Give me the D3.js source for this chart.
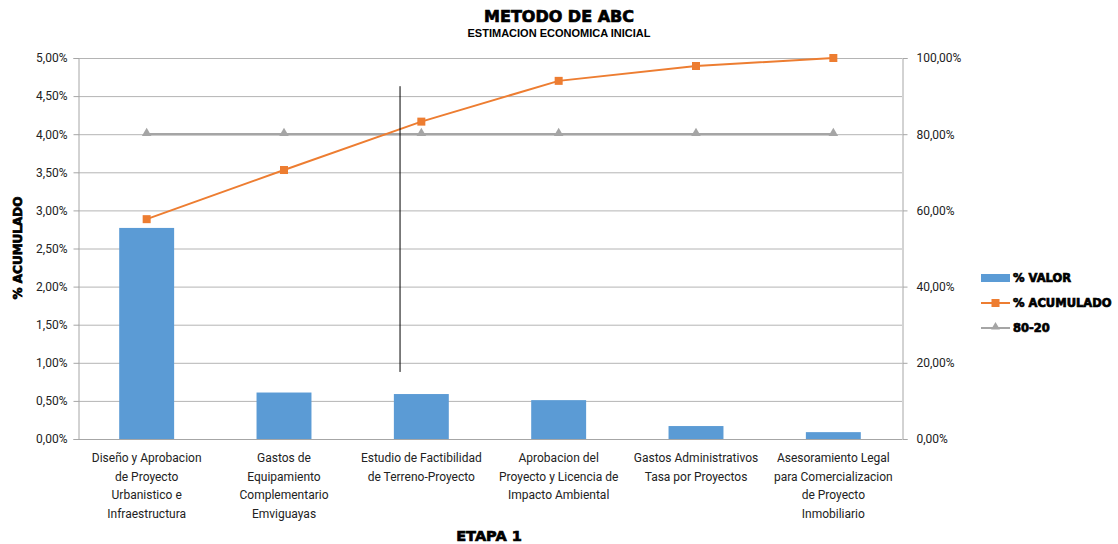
<!DOCTYPE html>
<html>
<head>
<meta charset="utf-8">
<script src="https://cdn.jsdelivr.net/npm/d3@7"></script>
<style>
  body { margin: 0; background: #fff; }
  .tick-label { font-family: Roboto, "Liberation Sans", sans-serif; font-size: 12px; fill: #222; }
  .heavy { font-family: "DejaVu Sans", sans-serif; font-weight: bold; fill: #000; stroke: #000; stroke-width: 0.7px; }
</style>
</head>
<body>
<svg width="1118" height="544"></svg>
<script>
/* --------------- Datos --------------- */
const categorias = [
  ["Diseño y Aprobacion", "de Proyecto", "Urbanistico e", "Infraestructura"],
  ["Gastos de", "Equipamiento", "Complementario", "Emviguayas"],
  ["Estudio de Factibilidad", "de Terreno-Proyecto"],
  ["Aprobacion del", "Proyecto y Licencia de", "Impacto Ambiental"],
  ["Gastos Administrativos", "Tasa por Proyectos"],
  ["Asesoramiento Legal", "para Comercializacion", "de Proyecto", "Inmobiliario"]
];
const valor = [0.0277, 0.0061, 0.0059, 0.0051, 0.0017, 0.0009];      // % VALOR (eje izq.)
const acumulado = [0.577, 0.706, 0.833, 0.940, 0.979, 1.000];         // % ACUMULADO (eje der.)
const linea8020 = [0.8, 0.8, 0.8, 0.8, 0.8, 0.8];                     // 80-20
const ticksIzq = [0, 0.005, 0.01, 0.015, 0.02, 0.025, 0.03, 0.035, 0.04, 0.045, 0.05];
const ticksDer = [0, 0.2, 0.4, 0.6, 0.8, 1.0];
// linea de corte (posicion en categorias, extremos en eje der.)
const corte = { pos: 2.345, desde: 0.176, hasta: 0.926 };

const colores = { valor: "#5B9BD5", acum: "#ED7D31", ref: "#A5A5A5" };

/* --------------- Escalas --------------- */
const mIzq = 78, mDer = 902, mSup = 58, mInf = 439;
const svg = d3.select("svg");

const nombres = categorias.map(c => c.join(" "));
const x = d3.scaleBand().domain(nombres).range([mIzq, mDer])
  .paddingInner(0.6).paddingOuter(0.3);
const xIdx = d3.scaleLinear().domain([0, categorias.length]).range([mIzq, mDer]);
const yIzq = d3.scaleLinear().domain([0, 0.05]).range([mInf, mSup]);
const yDer = d3.scaleLinear().domain([0, 1]).range([mInf, mSup]);

const pct = d3.formatLocale({ decimal: ",", thousands: ".", grouping: [3], currency: ["", ""] }).format(".2%");
const cx = (d, i) => x(nombres[i]) + x.bandwidth() / 2;

/* --------------- Rejilla --------------- */
svg.append("g")
  .selectAll("line")
  .data(ticksIzq)
  .enter().append("line")
  .attr("x1", mIzq).attr("x2", mDer)
  .attr("y1", d => yIzq(d) + 0.5).attr("y2", d => yIzq(d) + 0.5)
  .attr("stroke", "#b4b4b4").attr("stroke-width", 1);

/* --------------- Ejes --------------- */
const ejeIzq = svg.append("g")
  .attr("transform", `translate(${mIzq + 0.5},0)`)
  .call(d3.axisLeft(yIzq).tickValues(ticksIzq).tickFormat(pct).tickSizeOuter(0).tickSize(5).tickPadding(6));
const ejeDer = svg.append("g")
  .attr("transform", `translate(${mDer + 0.5},0)`)
  .call(d3.axisRight(yDer).tickValues(ticksDer).tickFormat(pct).tickSizeOuter(0).tickSize(5).tickPadding(9));
[ejeIzq, ejeDer].forEach(g => {
  g.select(".domain").attr("stroke", "#a6a6a6");
  g.selectAll(".tick line").attr("stroke", "#a6a6a6");
  g.selectAll(".tick text").attr("class", "tick-label").attr("fill", null);
});

/* --------------- Barras --------------- */
svg.append("g")
  .selectAll("rect")
  .data(valor)
  .enter().append("rect")
  .attr("x", (d, i) => x(nombres[i]))
  .attr("width", x.bandwidth())
  .attr("y", d => yIzq(d))
  .attr("height", d => mInf - yIzq(d))
  .attr("fill", colores.valor);

svg.append("line")
  .attr("x1", mIzq).attr("x2", mDer)
  .attr("y1", mInf + 0.5).attr("y2", mInf + 0.5)
  .attr("stroke", "#a6a6a6");

/* --------------- Linea 80-20 --------------- */
const linea = d3.line().x((d, i) => cx(d, i)).y(d => yDer(d));
svg.append("path")
  .datum(linea8020)
  .attr("d", linea)
  .attr("fill", "none").attr("stroke", colores.ref).attr("stroke-width", 2.5);
svg.append("g")
  .selectAll("path")
  .data(linea8020)
  .enter().append("path")
  .attr("transform", (d, i) => `translate(${cx(d, i)},${yDer(d) - 1})`)
  .attr("d", d3.symbol(d3.symbolTriangle, 40))
  .attr("fill", colores.ref);

/* --------------- Linea acumulado --------------- */
svg.append("path")
  .datum(acumulado)
  .attr("d", linea)
  .attr("fill", "none").attr("stroke", colores.acum).attr("stroke-width", 2);
svg.append("g")
  .selectAll("rect")
  .data(acumulado)
  .enter().append("rect")
  .attr("x", (d, i) => cx(d, i) - 4)
  .attr("y", d => yDer(d) - 4)
  .attr("width", 8).attr("height", 8)
  .attr("fill", colores.acum);

/* --------------- Linea de corte --------------- */
svg.append("line")
  .attr("x1", xIdx(corte.pos)).attr("x2", xIdx(corte.pos))
  .attr("y1", yDer(corte.hasta)).attr("y2", yDer(corte.desde))
  .attr("stroke", "#000").attr("stroke-width", 1);

/* --------------- Etiquetas categorias --------------- */
const etiq = svg.append("g")
  .selectAll("text")
  .data(categorias)
  .enter().append("text")
  .attr("class", "tick-label")
  .attr("text-anchor", "middle")
  .attr("x", (d, i) => cx(d, i))
  .attr("y", 462);
etiq.selectAll("tspan")
  .data(d => d)
  .enter().append("tspan")
  .attr("x", function () { return this.parentNode.getAttribute("x"); })
  .attr("dy", (d, i) => i === 0 ? 0 : 18.7)
  .text(d => d);

/* --------------- Titulos --------------- */
svg.append("text").attr("class", "heavy")
  .attr("x", 559).attr("y", 22).attr("text-anchor", "middle")
  .attr("font-size", 16).text("METODO DE ABC");
svg.append("text")
  .attr("x", 559).attr("y", 37).attr("text-anchor", "middle")
  .attr("font-family", "Liberation Sans, Arial, sans-serif").attr("font-weight", "bold")
  .attr("font-size", 11).text("ESTIMACION ECONOMICA INICIAL");
svg.append("text").attr("class", "heavy")
  .attr("transform", "translate(22,248) rotate(-90)").attr("text-anchor", "middle")
  .attr("font-size", 12).text("% ACUMULADO");
svg.append("text").attr("class", "heavy")
  .attr("x", 489).attr("y", 541).attr("text-anchor", "middle")
  .attr("font-size", 14.5).text("ETAPA 1");

/* --------------- Leyenda --------------- */
const leyenda = [
  { nombre: "% VALOR", tipo: "barra", color: colores.valor },
  { nombre: "% ACUMULADO", tipo: "cuadro", color: colores.acum },
  { nombre: "80-20", tipo: "triangulo", color: colores.ref }
];
const ley = svg.append("g").attr("transform", "translate(981,0)")
  .selectAll("g")
  .data(leyenda)
  .enter().append("g")
  .attr("transform", (d, i) => `translate(0,${278 + i * 25})`);
ley.each(function (d) {
  const g = d3.select(this);
  if (d.tipo === "barra") {
    g.append("rect").attr("x", 0).attr("y", -4).attr("width", 29).attr("height", 8).attr("fill", d.color);
  } else {
    g.append("line").attr("x1", 0).attr("x2", 29).attr("y1", 0).attr("y2", 0)
      .attr("stroke", d.color).attr("stroke-width", 2);
    if (d.tipo === "cuadro") {
      g.append("rect").attr("x", 10.5).attr("y", -4).attr("width", 8).attr("height", 8).attr("fill", d.color);
    } else {
      g.append("path").attr("transform", "translate(14.5,-1)").attr("d", d3.symbol(d3.symbolTriangle, 34)).attr("fill", d.color);
    }
  }
  g.append("text").attr("class", "heavy").attr("x", 32).attr("y", 4)
    .attr("font-size", 11.5).text(d.nombre);
});
</script>
</body>
</html>
